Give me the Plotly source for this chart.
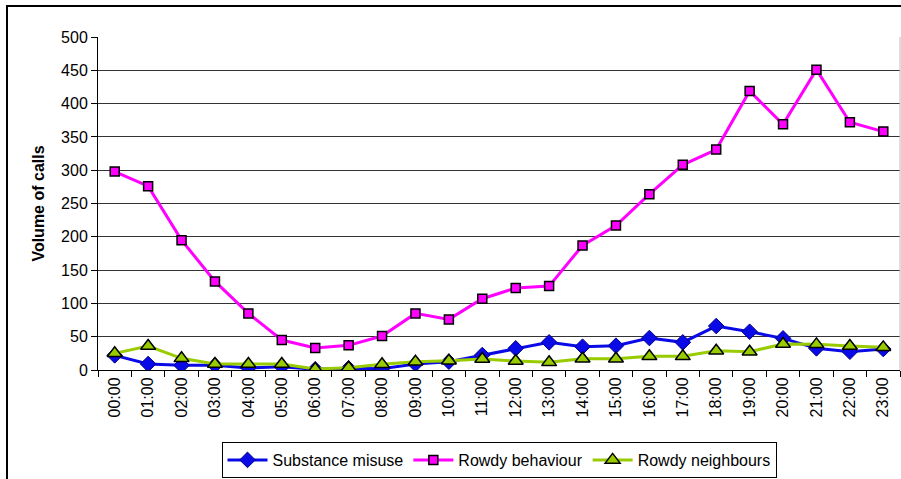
import plotly.graph_objects as go

hours = ["00:00", "01:00", "02:00", "03:00", "04:00", "05:00", "06:00", "07:00",
         "08:00", "09:00", "10:00", "11:00", "12:00", "13:00", "14:00", "15:00",
         "16:00", "17:00", "18:00", "19:00", "20:00", "21:00", "22:00", "23:00"]

substance_misuse = [22, 9, 7, 7, 3, 5, 1, 2.5, 2, 9, 12.5, 22.5,
                    32.5, 41.5, 35, 36.5, 48, 41.5, 66, 57.5, 47.5, 32.5, 27.5, 31.5]

rowdy_behaviour = [298, 276, 195, 133, 85, 45, 33, 37, 51, 85, 76, 107,
                   123, 126, 187, 217, 264, 308, 331, 419, 369, 451, 372, 358]

rowdy_neighbours = [25, 36, 17.5, 9, 9, 9, 1.5, 3.5, 8.5, 12.5, 14, 16.5,
                    13.5, 11.5, 17, 17, 20.5, 20.5, 29, 27.5, 39, 38.5, 36, 34]

series_names = ["Substance misuse", "Rowdy behaviour", "Rowdy neighbours"]
y_ticks = [0, 50, 100, 150, 200, 250, 300, 350, 400, 450, 500]

FONT = "Liberation Sans, Arial, sans-serif"

fig = go.Figure()
fig.add_trace(go.Scatter(
    x=hours, y=substance_misuse, name=series_names[0], mode="lines+markers",
    line=dict(color="#0A0AE6", width=3),
    marker=dict(symbol="diamond", size=12, color="#0A0AE6",
                line=dict(color="#00008B", width=1)),
))
fig.add_trace(go.Scatter(
    x=hours, y=rowdy_behaviour, name=series_names[1], mode="lines+markers",
    line=dict(color="#FF00FF", width=3),
    marker=dict(symbol="square", size=9, color="#FF00FF",
                line=dict(color="#000000", width=1.5)),
))
fig.add_trace(go.Scatter(
    x=hours, y=rowdy_neighbours, name=series_names[2], mode="lines+markers",
    line=dict(color="#99CC00", width=3),
    marker=dict(symbol="triangle-up", size=13, color="#99CC00",
                line=dict(color="#000000", width=1.5)),
))

L, R, T, B = 98, 900, 37, 370
W, H = 901, 479

def px(x):
    return (x - L) / (R - L)

def py(y):
    return (B - y) / (B - T)

fig.update_layout(
    width=W, height=H,
    margin=dict(l=L, r=W - R, t=T, b=H - B, autoexpand=False),
    paper_bgcolor="white", plot_bgcolor="white",
    font=dict(family=FONT, size=16, color="black"),
    showlegend=True,
    legend=dict(
        orientation="h", x=px(499), xanchor="center", y=py(442), yanchor="top",
        bordercolor="black", borderwidth=1, bgcolor="white",
        font=dict(family=FONT, size=16, color="black"),
        itemwidth=40, tracegroupgap=0,
    ),
    xaxis=dict(
        type="category", showgrid=False, showline=True, linecolor="black", linewidth=1,
        ticks="outside", ticklen=6, tickcolor="black", tickson="boundaries",
        tickangle=-90, tickfont=dict(family=FONT, size=16, color="black"),
        range=[-0.5, 23.5], fixedrange=True,
    ),
    yaxis=dict(
        range=[0, 500], tickvals=y_ticks, showgrid=True, gridcolor="#333333", gridwidth=1,
        showline=True, linecolor="black", linewidth=1,
        ticks="outside", ticklen=6, tickcolor="black",
        tickfont=dict(family=FONT, size=16, color="black"),
        title=dict(text="<b>Volume of calls</b>", font=dict(family=FONT, size=16, color="black"),
                   standoff=12),
        zeroline=False,
    ),
    shapes=[
        dict(type="rect", xref="paper", yref="paper",
             x0=px(7), x1=px(960), y0=py(520), y1=py(6),
             line=dict(color="black", width=2), fillcolor="rgba(0,0,0,0)", layer="below"),
        dict(type="line", xref="paper", yref="paper", x0=1, x1=1, y0=0, y1=1,
             line=dict(color="#BBBBBB", width=1)),
    ],
)

fig.write_html(
    "out.html",
    config={"displayModeBar": False},
    post_script="document.body.style.margin='0';document.body.style.overflow='hidden';",
)
